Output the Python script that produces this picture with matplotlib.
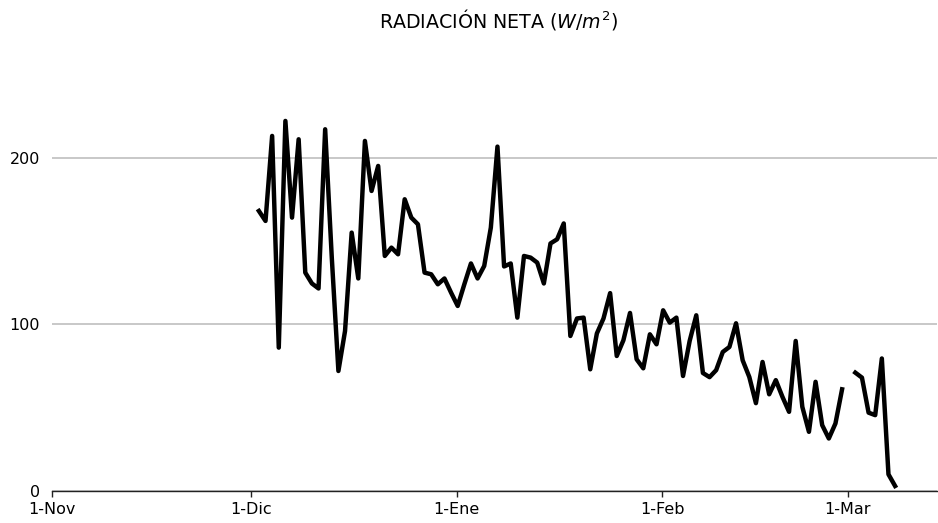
import numpy as np
import pandas as pd
import matplotlib
matplotlib.use("Agg")
import matplotlib.pyplot as plt

# radiacion neta diaria (W/m2), 2-Dic a 28-Feb
rad_dic_feb = [168, 162, 213, 86, 222, 164, 211, 131, 124.5, 121.5,
               217, 140, 72, 96, 155, 127.5, 210, 180, 195, 141,
               146, 142, 175, 164, 160, 131, 130, 124, 127.5, 119,
               111, 124, 136.5, 127.5, 135, 158, 206.6, 134.7, 136.5, 104,
               141, 140, 137, 124.5, 148.5, 151, 160.5, 93, 103.5, 104,
               73, 94.5, 103.5, 118.7, 81, 90.4, 106.8, 79, 73.6, 94,
               88, 108.4, 101, 104, 69, 90, 105.4, 70.8, 68.3, 72.5,
               83.4, 86.4, 100.6, 78.4, 68.4, 52.7, 77.4, 58, 66.5, 56.5,
               47.5, 90, 50.5, 35.5, 65.5, 39.5, 31.5, 40.5, 61]
# 1-Mar sin dato, luego 2-Mar a 8-Mar
rad_mar = [71, 68, 47, 45.5, 79.5, 10, 3]

valores = rad_dic_feb + [np.nan] + rad_mar
fechas = pd.date_range("2022-12-02 04:00", periods=len(valores), freq="D")

tick_fechas = pd.to_datetime(["2022-11-01", "2022-12-01", "2023-01-01",
                              "2023-02-01", "2023-03-01"])
tick_labels = ["1-Nov", "1-Dic", "1-Ene", "1-Feb", "1-Mar"]

fig = plt.figure(figsize=(9.38, 5.23), dpi=100)
ax = fig.add_axes([0.0558, 0.0612, 0.9432, 0.80])

ax.plot(fechas, valores, color="black", linewidth=3.2)

ax.set_xlim(pd.Timestamp("2022-11-01"), pd.Timestamp("2022-11-01") + pd.Timedelta(days=133.5))
ax.set_ylim(0, 251)
ax.set_yticks([0, 100, 200])
ax.set_xticks(tick_fechas)
ax.set_xticklabels(tick_labels)

ax.grid(axis="y", color="#c4c4c4", linewidth=1.3)
ax.set_axisbelow(True)
for s in ["left", "top", "right"]:
    ax.spines[s].set_visible(False)
ax.spines["bottom"].set_color("#222222")
ax.spines["bottom"].set_linewidth(1.0)
ax.tick_params(axis="y", length=0, pad=9, labelsize=11.5)
ax.tick_params(axis="x", length=4, width=1, pad=4, labelsize=11.5, color="#222222")

fig.text(0.532, 0.962, r"RADIACIÓN NETA ($W/m^2$)", ha="center", va="center", fontsize=13.7)

fig.savefig("out.png", dpi=100)
